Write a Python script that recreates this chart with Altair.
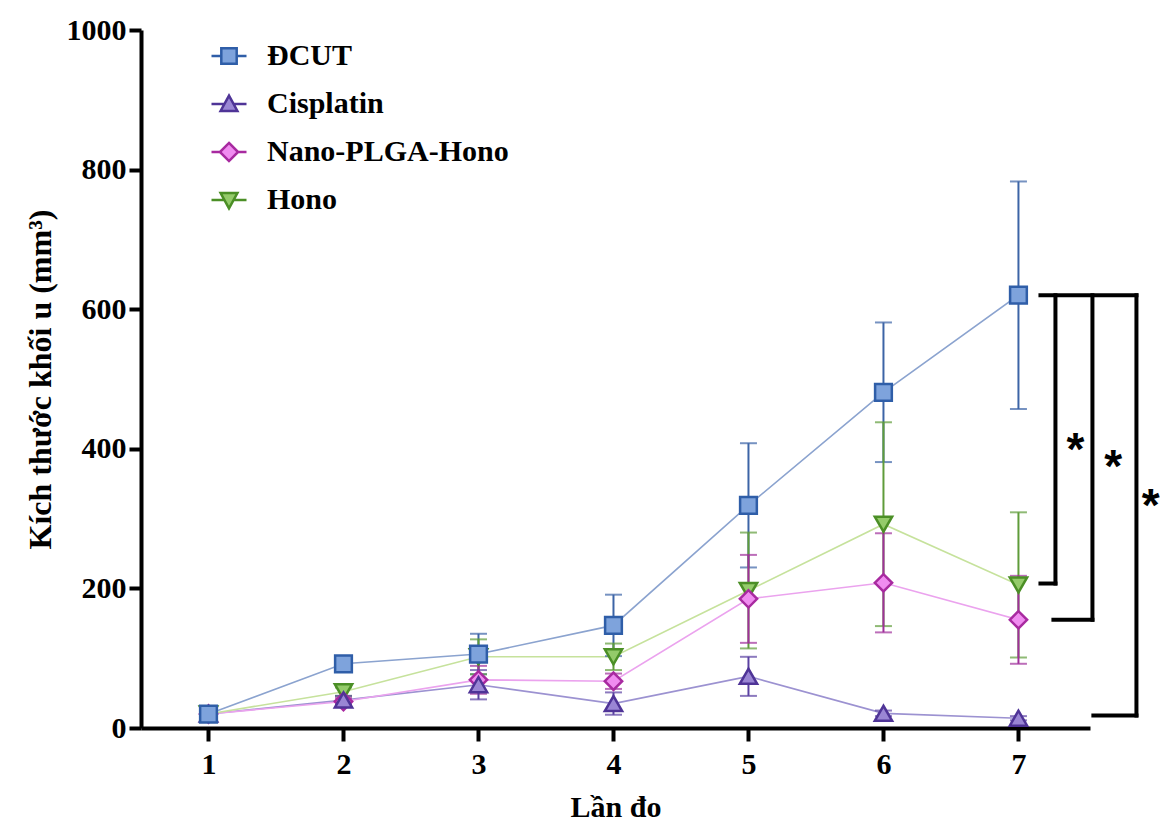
import altair as alt
import pandas as pd

# ---------------- data ----------------
measure = [1, 2, 3, 4, 5, 6, 7]
series_names = ["ĐCUT", "Cisplatin", "Nano-PLGA-Hono", "Hono"]

dcut_mean = [20, 92, 106, 147, 319, 481, 620]
dcut_sd = [3, 6, 29, 44, 89, 100, 163]
cis_mean = [20, 40, 62, 35, 74, 21, 14]
cis_sd = [2, 6, 21, 16, 28, 4, 3]
nano_mean = [20, 38, 69, 67, 185, 208, 155]
nano_sd = [2, 5, 20, 11, 63, 71, 63]
hono_mean = [20, 52, 102, 102, 197, 292, 205]
hono_sd = [2, 6, 25, 19, 83, 146, 104]

# significance brackets: top = ĐCUT at last measurement, bottoms = compared groups
sig_top = 620
sig_bottoms = [207, 155, 18]
sig_labels = ["*", "*", "*"]

y_ticks = [0, 200, 400, 600, 800, 1000]

# ---------------- styles ----------------
FONT = "Liberation Serif"
fills = ["#7ea3dc", "#9a86d4", "#f08cf0", "#94cb6a"]
strokes = ["#2f5ea8", "#4f3497", "#a82aa0", "#4b8f26"]
line_cols = ["#8ba3cf", "#9c92d1", "#eba3ee", "#c6e29c"]
err_cols = ["#3c64a6", "#5b41a2", "#a0309b", "#5f9c3a"]
shapes = ["square", "triangle-up", "diamond", "triangle-down"]
sizes = [280, 300, 300, 300]
legend_paths = [
    "M-1,0H-0.44M0.44,0H1M-0.44,-0.44H0.44V0.44H-0.44Z",
    "M-1,0H-0.25M0.25,0H1M0,-0.48L0.48,0.4L-0.48,0.4Z",
    "M-1,0H-0.52M0.52,0H1M0,-0.52L0.52,0L0,0.52L-0.52,0Z",
    "M-1,0H-0.25M0.25,0H1M-0.48,-0.4L0.48,-0.4L0,0.48Z",
]

means = [dcut_mean, cis_mean, nano_mean, hono_mean]
sds = [dcut_sd, cis_sd, nano_sd, hono_sd]

x_scale = alt.Scale(domain=[0.5, 7.53], nice=False, zero=False)
y_scale = alt.Scale(domain=[0, 1000], nice=False, zero=False)

x_axis = alt.Axis(
    values=measure, format="d", title="Lần đo",
    titleBaseline="alphabetic", titleY=88, titleAnchor="middle",
    tickSize=13, labelPadding=8,
)
y_axis = alt.Axis(
    values=y_ticks, format="d", title="Kích thước khối u (mm³)",
    titleBaseline="alphabetic", titleX=-91, titleAngle=-90, titleFontSize=32,
    tickSize=12, labelPadding=3,
)


def X(field):
    return alt.X(field, type="quantitative", scale=x_scale, axis=x_axis)


def Y(field):
    return alt.Y(field, type="quantitative", scale=y_scale, axis=y_axis)


frames = []
for i, name in enumerate(series_names):
    frames.append(pd.DataFrame({
        "x": measure,
        "mean": means[i],
        "lo": [m - s for m, s in zip(means[i], sds[i])],
        "hi": [m + s for m, s in zip(means[i], sds[i])],
        "series": name,
    }))

line_layers = []
err_layers = []
pt_layers = []
draw_order = [3, 2, 1, 0]  # Hono, Nano, Cisplatin, ĐCUT (ĐCUT on top)
for i in range(4):
    df = frames[i]
    line_layers.append(
        alt.Chart(df).mark_line(color=line_cols[i], strokeWidth=1.6).encode(x=X("x"), y=Y("mean"))
    )
for i in [0, 3, 2, 1]:
    df = frames[i]
    err_layers.append(
        alt.Chart(df).mark_errorbar(color=err_cols[i], thickness=2, ticks={"size": 17}).encode(
            x=X("x"), y=Y("lo"), y2=alt.Y2("hi")
        )
    )
for i in draw_order:
    df = frames[i]
    pt_layers.append(
        alt.Chart(df).mark_point(
            shape=shapes[i], filled=True, fill=fills[i], stroke=strokes[i],
            strokeWidth=2.5, size=sizes[i], opacity=1,
        ).encode(x=X("x"), y=Y("mean"))
    )

# ---------------- legend (native, driven by scales) ----------------
leg = alt.Legend(
    orient="none", legendX=69, legendY=7, title=None, padding=0,
    labelFont=FONT, labelFontWeight="bold", labelFontSize=30, labelColor="black",
    labelLimit=0,
    symbolSize=1225, symbolStrokeWidth=2.5, rowPadding=14, labelOffset=19,
    symbolOpacity=1,
)
legend_df = pd.DataFrame({"series": series_names})
legend_layer = alt.Chart(legend_df).mark_point(filled=True, opacity=1, strokeWidth=2.5).encode(
    shape=alt.Shape("series:N", scale=alt.Scale(domain=series_names, range=legend_paths), legend=leg),
    fill=alt.Fill("series:N", scale=alt.Scale(domain=series_names, range=fills), legend=leg),
    stroke=alt.Stroke("series:N", scale=alt.Scale(domain=series_names, range=strokes), legend=leg),
).transform_filter("false")

# ---------------- significance brackets ----------------
top_left = 7.163
bracket_x = [7.274, 7.548, 7.874]
stub_left = [7.163, 7.259, 7.555]
star_x = [7.422, 7.701, 7.98]
star_y = [377, 353, 297]

segs = {"x": [top_left], "x2": [bracket_x[-1]], "y": [sig_top], "y2": [sig_top]}
for bx, sl, b in zip(bracket_x, stub_left, sig_bottoms):
    segs["x"] += [bx, sl]
    segs["x2"] += [bx, bx]
    segs["y"] += [sig_top, b]
    segs["y2"] += [b, b]
seg_df = pd.DataFrame(segs)
brackets = alt.Chart(seg_df).mark_rule(color="black", strokeWidth=4, strokeCap="square").encode(
    x=X("x"), x2=alt.X2("x2"), y=Y("y"), y2=alt.Y2("y2")
)
star_df = pd.DataFrame({"x": star_x, "y": star_y, "t": sig_labels})
stars = alt.Chart(star_df).mark_text(
    font="Liberation Sans", fontWeight="bold", fontSize=46, color="black",
    baseline="alphabetic", align="center"
).encode(x=X("x"), y=Y("y"), text="t:N")

chart = alt.layer(
    *line_layers, *err_layers, *pt_layers, brackets, stars, legend_layer
).resolve_scale(
    shape="independent", fill="independent", stroke="independent"
).properties(
    width=949, height=698,
    padding={"left": 141, "top": 30, "right": 70, "bottom": 95},
    autosize=alt.AutoSizeParams(type="none"),
    background="white",
).configure_view(stroke=None).configure_axis(
    grid=False, domainColor="black", domainWidth=4, tickColor="black", tickWidth=4,
    labelFont=FONT, labelFontWeight="bold", labelFontSize=30, labelColor="black",
    titleFont=FONT, titleFontWeight="bold", titleFontSize=30, titleColor="black",
)

chart.save("out.html", embed_options={"renderer": "svg", "actions": False})
